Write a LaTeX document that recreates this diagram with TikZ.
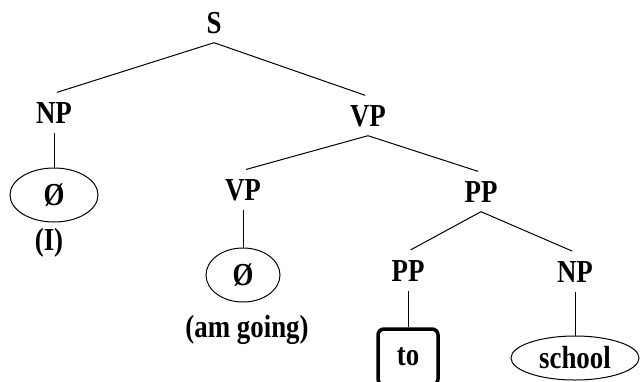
\documentclass[tikz,border=0pt]{standalone}
\usepackage{fontspec}
\setmainfont[FakeStretch=0.84]{Liberation Serif}
\usetikzlibrary{shapes.geometric}

\begin{document}
\begin{tikzpicture}
[x=1pt, y=-1pt,%
  font=\fontsize{32}{36}\selectfont\bfseries,
  lineDecorate/.style={-,line width=1pt, shorten >=3pt},
  stemDecorate/.style={-,line width=1pt},
  cat/.style={inner xsep=0pt, inner ysep=9pt, text height=21pt, text depth=0pt},
  blank/.style={ellipse, draw, line width=1pt, inner sep=0pt},
  word/.style={draw, line width=3.5pt, rounded corners=6pt,
    minimum width=60pt, minimum height=56pt}]
\useasboundingbox (0,0) rectangle (640,381);
%% nodes or vertices
\foreach \nodename/\code/\x/\y in {
  s/S/214/23, np/NP/54/113, vp/VP/368/116, vpb/VP/243/190,
  pp/PP/481/192, ppb/PP/408/271, npb/NP/575/272}
{
  \node (\nodename) at (\x,\y) [cat] {\code};
}
\foreach \nodename/\code/\x/\y/\w/\h in {
  zeroI/Ø/54/195/88/54, zeroV/Ø/243/275/74/54, school/school/575/358/128/44}
{
  \node (\nodename) at (\x,\y) [blank, minimum width=\w, minimum height=\h] {\code};
}
\node (to) at (408,357) [word] {to};
\node (glossI) at (49,243) {(I)};
\node (glossV) at (247,330) {(am going)};
%% edges or lines
\path
\foreach \startnode/\endnode in {
  s/np, s/vp, vp/vpb, vp/pp, pp/ppb, pp/npb}
{
  (\startnode.south) edge[lineDecorate] (\endnode.north)
};
\path
\foreach \startnode/\endnode in {
  np/zeroI, vpb/zeroV, ppb/to, npb/school}
{
  (\startnode.south) edge[stemDecorate] (\endnode.north)
};
\end{tikzpicture}
\end{document}
